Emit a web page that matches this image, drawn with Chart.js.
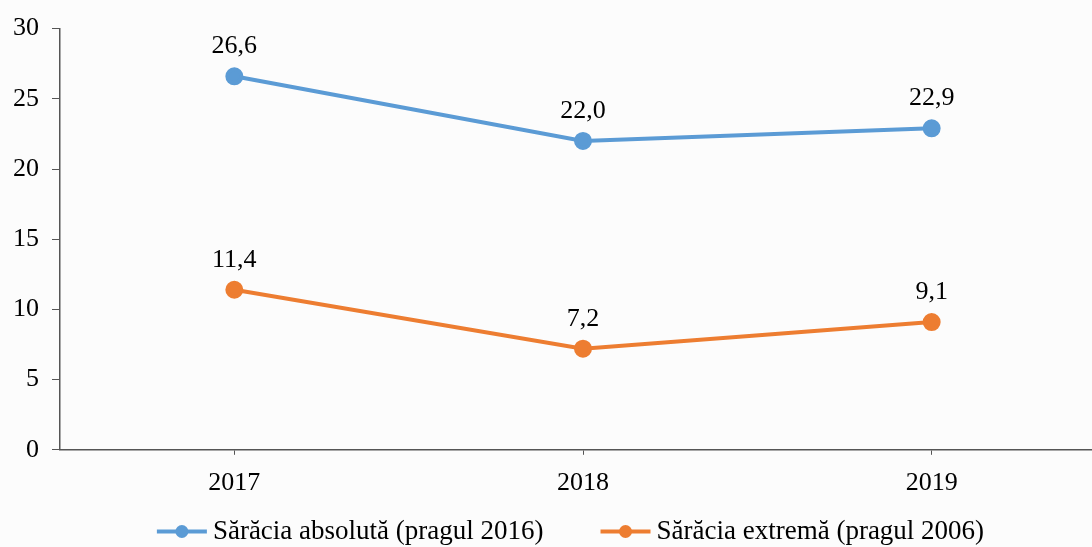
<!DOCTYPE html>
<html lang="ro">
<head>
<meta charset="UTF-8">
<title>Sărăcia absolută și extremă</title>
<style>
    html, body { margin: 0; padding: 0; background: #fcfcfc; overflow: hidden; }
    #wrap { width: 1117px; height: 547px; }
</style>
</head>
<body>
<div id="wrap"><canvas id="chart"></canvas></div>
<script src="https://cdn.jsdelivr.net/npm/chart.js"></script>
<script>
const years = ["2017", "2018", "2019"];
const absoluta = [26.6, 22.0, 22.9];
const extrema = [11.4, 7.2, 9.1];
const seriesNames = ["Sărăcia absolută (pragul 2016)", "Sărăcia extremă (pragul 2006)"];
const yTicks = [0, 5, 10, 15, 20, 25, 30];

const FONT = "'Liberation Serif', 'Times New Roman', serif";
const FSIZE = 26;
const LEG_FS = 27;
const LEG_BOX = 80;

// valori deasupra punctelor, cu virgulă zecimală
const valueLabels = {
    id: "valueLabels",
    afterDatasetsDraw(chart) {
        const ctx = chart.ctx;
        ctx.save();
        ctx.font = FSIZE + "px " + FONT;
        ctx.fillStyle = "#000";
        ctx.textAlign = "center";
        ctx.textBaseline = "middle";
        chart.data.datasets.forEach((ds, i) => {
            chart.getDatasetMeta(i).data.forEach((pt, j) => {
                ctx.fillText(ds.data[j].toFixed(1).replace(".", ","), pt.x, pt.y - 30);
            });
        });
        ctx.restore();
    }
};

// linia cu punct din legendă (lipită de text)
const legendMarks = {
    id: "legendMarks",
    afterDraw(chart) {
        const lg = chart.legend;
        if (!lg || !lg.legendHitBoxes) return;
        const ctx = chart.ctx;
        ctx.save();
        lg.legendHitBoxes.forEach((box, i) => {
            const color = chart.data.datasets[i].borderColor;
            const cy = box.top + box.height / 2;
            const x1 = box.left + LEG_BOX + LEG_FS / 2 - 6;
            ctx.strokeStyle = color;
            ctx.lineWidth = 4;
            ctx.beginPath();
            ctx.moveTo(x1 - 50, cy);
            ctx.lineTo(x1, cy);
            ctx.stroke();
            ctx.fillStyle = color;
            ctx.beginPath();
            ctx.arc(x1 - 25, cy, 6.5, 0, Math.PI * 2);
            ctx.fill();
        });
        ctx.restore();
    }
};

new Chart(document.getElementById("chart"), {
    type: "line",
    data: {
        labels: years,
        datasets: [
            {
                label: seriesNames[0],
                data: absoluta,
                borderColor: "#5B9BD5",
                backgroundColor: "#5B9BD5",
                borderWidth: 4,
                pointRadius: 7,
                pointHoverRadius: 7,
                tension: 0
            },
            {
                label: seriesNames[1],
                data: extrema,
                borderColor: "#ED7D31",
                backgroundColor: "#ED7D31",
                borderWidth: 4,
                pointRadius: 7,
                pointHoverRadius: 7,
                tension: 0
            }
        ]
    },
    options: {
        responsive: true,
        maintainAspectRatio: false,
        animation: false,
        layout: { padding: { top: -4, right: 0, left: 0, bottom: -8 } },
        scales: {
            x: {
                offset: true,
                grid: { offset: false, drawOnChartArea: false, drawTicks: true, tickLength: 5, color: "#555" },
                border: { display: true, color: "#555", width: 1.5 },
                ticks: { color: "#000", font: { family: FONT, size: FSIZE }, padding: 13 }
            },
            y: {
                min: 0,
                max: 30,
                afterBuildTicks(axis) { axis.ticks = yTicks.map(v => ({ value: v })); },
                grid: { drawOnChartArea: false, drawTicks: true, tickLength: 8, color: "#555" },
                border: { display: true, color: "#555", width: 1.5 },
                ticks: { color: "#000", font: { family: FONT, size: FSIZE }, padding: 13 }
            }
        },
        plugins: {
            legend: {
                position: "bottom",
                labels: {
                    color: "#000",
                    font: { family: FONT, size: LEG_FS },
                    boxWidth: LEG_BOX,
                    boxHeight: 4,
                    padding: 6,
                    generateLabels(chart) {
                        return chart.data.datasets.map((ds, i) => ({
                            text: ds.label + "  ",
                            fillStyle: "rgba(0,0,0,0)",
                            strokeStyle: "rgba(0,0,0,0)",
                            lineWidth: 0,
                            datasetIndex: i
                        }));
                    }
                }
            },
            tooltip: { enabled: false }
        }
    },
    plugins: [valueLabels, legendMarks]
});
</script>
</body>
</html>
